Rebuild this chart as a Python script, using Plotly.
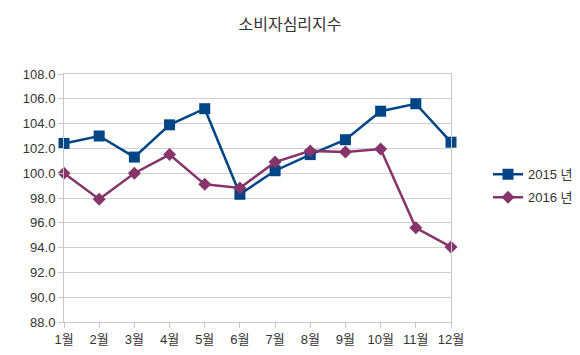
import plotly.graph_objects as go

months = ["1월", "2월", "3월", "4월", "5월", "6월", "7월", "8월", "9월", "10월", "11월", "12월"]
y2015 = [102.4, 103.0, 101.3, 103.9, 105.2, 98.3, 100.2, 101.5, 102.7, 105.0, 105.6, 102.5]
y2016 = [100.0, 97.9, 100.0, 101.5, 99.1, 98.8, 100.9, 101.8, 101.7, 101.95, 95.6, 94.05]
series_names = ["2015 년", "2016 년"]
y_ticks = [88, 90, 92, 94, 96, 98, 100, 102, 104, 106, 108]

fig = go.Figure()
fig.add_trace(go.Scatter(
    x=months, y=y2015, name=series_names[0], mode="lines+markers",
    line=dict(color="#004586", width=2.5),
    marker=dict(symbol="square", size=11, color="#004586"),
    cliponaxis=False, legendgroup="a",
))
fig.add_trace(go.Scatter(
    x=months, y=y2016, name=series_names[1], mode="lines+markers",
    line=dict(color="#86346a", width=2.5),
    marker=dict(symbol="diamond", size=10, color="#86346a"),
    cliponaxis=False, legendgroup="b",
))

# page body has an 8px margin, so figure coordinates are offset by 8px
fig.update_layout(
    width=580, height=355,
    margin=dict(l=56, r=137, t=66, b=41, autoexpand=False),
    paper_bgcolor="white", plot_bgcolor="white",
    font=dict(family="Liberation Sans, Noto Sans CJK KR, sans-serif", size=13, color="#333333"),
    title=dict(text="소비자심리지수", x=282 / 580, xref="container", xanchor="center",
               y=1 - 16 / 355, yref="container", yanchor="middle",
               font=dict(family="Noto Sans CJK KR, sans-serif", size=16, color="#333333")),
    showlegend=True,
    legend=dict(x=1.0956, xanchor="left", y=0.656, yanchor="top",
                font=dict(size=13, color="#333333"), tracegroupgap=3,
                itemwidth=30, bgcolor="rgba(0,0,0,0)"),
)
fig.update_xaxes(
    type="category", range=[0, 11], showgrid=False,
    showline=True, linecolor="#c8c8c8", linewidth=1, mirror=True,
    ticks="outside", ticklen=5, tickcolor="#c8c8c8",
    tickfont=dict(size=13, color="#333333"), automargin=False,
)
fig.update_yaxes(
    range=[88, 108], tickvals=y_ticks, tickformat=".1f",
    showgrid=True, gridcolor="#d0d0d0", gridwidth=1,
    showline=True, linecolor="#c8c8c8", linewidth=1, mirror=True,
    ticks="outside", ticklen=5, tickcolor="#c8c8c8",
    tickfont=dict(size=13, color="#333333"), zeroline=False, automargin=False,
)

fig.write_html("out.html")
